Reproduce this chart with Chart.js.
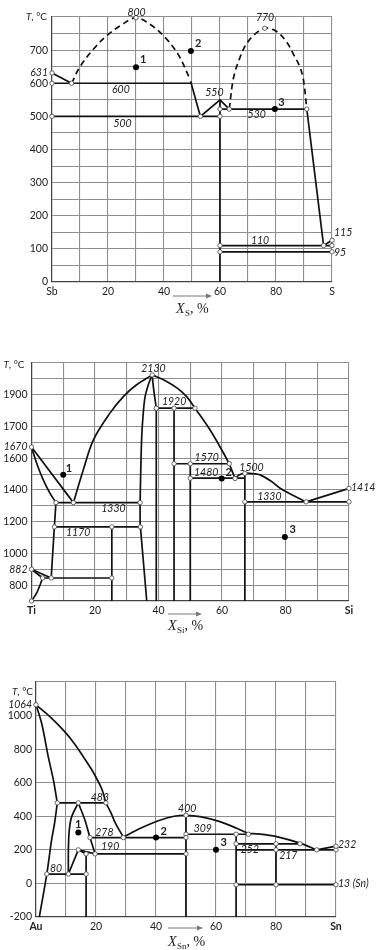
<!DOCTYPE html>
<html><head><meta charset="utf-8">
<script src="https://cdn.jsdelivr.net/npm/chart.js@4.4.0/dist/chart.umd.min.js"></script>
<style>
html,body{margin:0;padding:0;background:#fff;}
body{width:378px;height:950px;position:relative;overflow:hidden;}
canvas{position:absolute;left:0;}
</style></head><body>
<canvas id="c1" width="378" height="318" style="top:0px"></canvas>
<canvas id="c2" width="378" height="318" style="top:318px"></canvas>
<canvas id="c3" width="378" height="314" style="top:636px"></canvas>
<script>
// ---------------- Chart 1 : Sb – S ----------------
const sbsXTickVals = [0,20,40,60,80,100];
const sbsXTickText = ['Sb','20','40','60','80','S'];
const sbsYTickVals = [0,100,200,300,400,500,600,631,700];
const sbsYTickText = ['0','100','200','300','400','500','600','631','700'];
const sbsYItalic = [631];
const sbsLiqSb   = [[0,631],[7,600]];
const sbsEut600  = [[0,600],[49.5,600]];
const sbsEut500  = [[0,500],[60,500]];
const sbsLiqMid  = [[49.5,606],[53,500],[60,550],[63.3,522]];
const sbsComp60  = [[60,550],[60,0]];
const sbsMono522 = [[60,522],[91,522]];
const sbsLiqS    = [[91,522],[97,110],[100,126]];
const sbsLine110 = [[60,110],[100,110]];
const sbsLine95  = [[60,91],[100,91]];
const sbsDome1   = [[7,600],[10,650],[15,705],[20,747],[25,777],[30,798],[35,778],[40,742],[45,688],[49.3,612]];
const sbsDome2   = [[63.3,522],[64.8,615],[67,675],[69.5,720],[73,752],[76,766],[79,762],[81.4,748],[84,722],[86.2,688],[88.5,650],[89.8,610],[91,522]];
const sbsOpen    = [[0,631],[0,600],[0,500],[7,600],[30,798],[53,500],[60,522],[60,500],[63.3,522],[76,766],[91,522],[60,110],[60,91],[97,110],[100,126],[100,110],[100,91]];
const sbsPoints  = [[30,648],[49.6,697],[79.6,522]];
const sbsPointText = ['1','2','3'];
const sbsPointTextPos = [[32.6,672],[52.2,721],[81.9,541]];
const sbsLabels  = [['800',30.2,814],['600',24.6,580],['500',25.2,479],['550',58,572],['530',73.1,504],['770',76.1,797],['110',74.3,125]];
const sbsSideLabels = [['115',100,148],['95',100,88]];

// ---------------- Chart 2 : Ti – Si ----------------
const tisXTickVals = [0,20,40,60,80,100];
const tisXTickText = ['Ti','20','40','60','80','Si'];
const tisYTickVals = [800,900,1000,1200,1400,1600,1670,1800,2000];
const tisYTickText = ['800','882','1000','1200','1400','1600','1670','1700','1900'];
const tisYItalic = [900,1670];
const tisLiqTi   = [[0,1670],[13.2,1320]];
const tisSolTi   = [[0,1670],[1.6,1570],[3.7,1463],[5.8,1380],[7.7,1320]];
const tisLiqA    = [[13.2,1320],[16.3,1526],[19.5,1716],[24.7,1884],[29,1990],[33.1,2063],[38,2125]];
const tisLiqB    = [[38,2125],[42,2090],[46,2040],[49,1985],[51.5,1915],[56.2,1779],[59.9,1653],[62.3,1562],[64.1,1472]];
const tisLiqC    = [[64.1,1472],[65.5,1495],[67.2,1505],[70,1502],[72,1495],[75.5,1455],[78.3,1411],[82,1370],[86.5,1325]];
const tisLiqSi   = [[86.5,1325],[100,1410]];
const tisEut1330 = [[7.7,1320],[34.2,1320]];
const tisLine1170 = [[7.2,1167],[34.3,1167]];
const tisBetaSolv = [[7.7,1320],[7.2,1167],[6.2,845]];
const tisEutectoid = [[3.5,845],[25.3,845]];
const tisWedgeA  = [[0,900],[6.2,845]];
const tisWedgeB  = [[0,900],[3.5,845]];
const tisAlphaSolv = [[3.5,845],[2.9,812],[1.6,749],[0,700]];
const tisTi3Si   = [[25.3,1167],[25.3,700]];
const tisTi5Si3Low = [[36.3,700],[34.3,1167],[34.2,1320]];
const tisTi5Si3Up  = [[34.2,1320],[34.5,1600],[34.7,1726],[35,1831],[35.7,1979],[36.8,2063],[38,2125]];
const tisTi5Si3R   = [[38,2125],[38.5,2030],[39.3,1915]];
const tisTi5Si3V   = [[39.3,1915],[39.3,700]];
const tisLine1920 = [[39.3,1915],[51.5,1915]];
const tisTi5Si4  = [[44.9,1915],[44.9,700]];
const tisLine1570 = [[44.9,1565],[62.3,1565]];
const tisTiSi    = [[50,1565],[50,700]];
const tisLine1480 = [[50,1474],[67.2,1474]];
const tisTiSi2   = [[67.2,1505],[67.2,700]];
const tisEut1330R = [[67.2,1325],[100,1325]];
const tisOpen    = [[0,1670],[7.7,1320],[13.2,1320],[34.2,1320],[7.2,1167],[25.3,1167],[34.3,1167],[0,900],[3.5,845],[6.2,845],[25.3,845],[0,700],[38,2125],[39.3,1915],[44.9,1915],[51.5,1915],[44.9,1565],[50,1565],[62.3,1565],[50,1474],[64.1,1472],[67.2,1505],[67.2,1325],[86.5,1325],[100,1325],[100,1410]];
const tisPoints  = [[10,1495],[59.9,1472],[79.8,1104]];
const tisPointText = ['1','2','3'];
const tisPointTextPos = [[11.8,1535],[62.1,1510],[82.3,1152]];
const tisLabels  = [['2130',38.4,2162],['1920',44.9,1957],['1330',25.8,1280],['1170',14.7,1133],['1570',55.2,1604],['1480',55,1510],['1500',69.3,1541],['1330',74.9,1358]];
const tisSideLabels = [['1414',100,1417]];

// ---------------- Chart 3 : Au – Sn ----------------
const ausXTickVals = [0,20,40,60,80,100];
const ausXTickText = ['Au','20','40','60','80','Sn'];
const ausYTickVals = [-200,0,200,400,600,800,1000,1064];
const ausYTickText = ['-200','0','200','400','600','800','1000','1064'];
const ausYItalic = [1064];
const ausLiqA    = [[0,1064],[4.7,992],[9.1,913],[12.5,840],[15.8,754],[18.5,680],[20.2,625],[22,560],[23.3,480]];
const ausLiqB    = [[23.3,480],[25,420],[26.5,358],[29.1,276]];
const ausLiqC    = [[29.1,276],[35,330],[41,375],[46,400],[50,406],[54.7,398],[61.3,368],[66.9,329],[70.8,297]];
const ausLiqD    = [[70.8,297],[74.7,294],[80.2,279],[88,240],[93.6,200]];
const ausLiqSn   = [[93.6,200],[100,222]];
const ausSolvA1  = [[0,1064],[1.9,953],[4.1,754],[5.8,616],[7.1,480]];
const ausSolvA2  = [[7.1,480],[6.2,360],[5.2,260],[3.6,56],[1.1,-200]];
const ausLine483 = [[7.1,480],[23.3,480]];
const ausZetaL   = [[14.1,480],[11.9,398],[11.1,319],[10.8,200],[10.8,56]];
const ausZetaR   = [[14.1,480],[16.3,378],[18,273],[19.7,176]];
const ausZetaLowA = [[10.8,56],[14.1,200],[19.7,176]];
const ausZetaLowB = [[14.1,200],[16.7,176]];
const ausLine278 = [[18,273],[50,273]];
const ausLine190 = [[19.7,176],[50,176]];
const ausLine80  = [[3.6,56],[16.7,56]];
const ausVert167 = [[16.7,176],[16.7,-200]];
const ausVert50  = [[50,406],[50,-200]];
const ausLine309 = [[50,293],[70.8,293]];
const ausVert667 = [[66.7,293],[66.7,-200]];
const ausLine252 = [[66.7,236],[88,236]];
const ausVert80  = [[80,236],[80,-8]];
const ausLine217 = [[66.7,200],[100,200]];
const ausLine13  = [[66.7,-8],[100,-8]];
const ausOpen    = [[0,1064],[7.1,480],[14.1,480],[23.3,480],[18,273],[29.1,273],[50,406],[50,293],[50,273],[50,176],[19.7,176],[14.1,200],[16.7,176],[16.7,56],[10.8,56],[3.6,56],[66.7,293],[70.8,293],[66.7,236],[80,236],[88,236],[80,200],[93.6,200],[100,200],[100,222],[66.7,-8],[80,-8],[100,-8]];
const ausPoints  = [[14.1,303],[40,273],[60,200]];
const ausPointText = ['1','2','3'];
const ausPointTextPos = [[14.1,350],[42.6,310],[62.6,243]];
const ausLabels  = [['483',21.3,511],['278',22.8,305],['190',24.7,222],['80',6.7,86],['400',50.4,444],['309',55.6,326],['252',71.3,200],['217',84.1,164]];
const ausSideLabels = [['232',100,230],['13 (Sn)',100,-2]];

// ---------------- helpers ----------------
const FONT = 'Lato';
function gridVals(min,max,step){const a=[];for(let v=min;v<=max+1e-9;v+=step)a.push(Math.round(v*1000)/1000);return a;}
function axis(o){
  const grid = gridVals(o.min,o.max,o.step);
  const all = Array.from(new Set([...grid, ...o.vals])).sort((a,b)=>a-b);
  return {
    type:'linear', min:o.min, max:o.max,
    afterBuildTicks: s => { s.ticks = all.map(v=>({value:v})); },
    afterFit: s => { if(o.isY) s.width = o.size; else s.height = o.size; },
    grid:{ color: c => (c.tick && grid.includes(c.tick.value)) ? '#8e8e8e' : 'rgba(0,0,0,0)', lineWidth:1.1, drawTicks:false },
    border:{ color:'#444', width:1.2 },
    ticks:{
      autoSkip:false, maxRotation:0, minRotation:0, padding: o.isY?4:3, color:'#222',
      callback: v => { const i = o.vals.indexOf(v); return i>=0 ? o.text[i] : ''; },
      font: c => ({family:FONT, size:10.5,
        style: (c.tick && (o.italic||[]).includes(c.tick.value)) ? 'italic' : 'normal',
        weight: (c.tick && (o.bold||[]).includes(c.tick.value)) ? 'bold' : 'normal'})
    }
  };
}
const P = pts => pts.map(p=>({x:p[0],y:p[1]}));
const L = (pts,curve,dash) => ({data:P(pts), showLine:true, fill:false, borderColor:'#111', borderWidth:1.7,
  pointRadius:0, tension: curve?0.35:0, borderDash: dash?[6,4]:[], clip:false, order:2});
const OPEN = pts => ({data:P(pts), showLine:false, pointRadius:2.2, pointBackgroundColor:'#fff',
  pointBorderColor:'#555', pointBorderWidth:0.9, clip:false, order:0});
const DOT = pts => ({data:P(pts), showLine:false, pointRadius:3, pointBackgroundColor:'#000',
  pointBorderColor:'#000', pointBorderWidth:0, clip:false, order:0});

function diagPlugin(cfg){
  return {
    id:'diag',
    afterDatasetsDraw(chart){
      const ctx = chart.ctx, a = chart.chartArea, x = chart.scales.x, y = chart.scales.y;
      ctx.save();
      ctx.fillStyle = '#222';
      ctx.textBaseline = 'middle';
      ctx.font = 'italic 10.5px ' + FONT;
      ctx.textAlign = 'center';
      cfg.labels.forEach(l => ctx.fillText(l[0], x.getPixelForValue(l[1]), y.getPixelForValue(l[2])));
      ctx.textAlign = 'left';
      cfg.side.forEach(l => ctx.fillText(l[0], x.getPixelForValue(l[1]) + 2, y.getPixelForValue(l[2])));
      ctx.font = 'bold 11px ' + FONT;
      ctx.textAlign = 'center';
      cfg.ptText.forEach((t,i) => ctx.fillText(t, x.getPixelForValue(cfg.ptPos[i][0]), y.getPixelForValue(cfg.ptPos[i][1])));
      // T, °C
      const ty = y.getPixelForValue(cfg.tY);
      const tr = a.left - cfg.tGap;
      ctx.font = '10px ' + FONT;
      const w2 = ctx.measureText(', °C').width;
      ctx.textAlign = 'right';
      ctx.fillText(', °C', tr, ty);
      ctx.font = 'italic 10px ' + FONT;
      ctx.fillText('T', tr - w2, ty);
      // axis title with arrow
      const x0 = cfg.arrow[0], x1 = cfg.arrow[1];
      const ay = a.bottom + cfg.arrowDy;
      ctx.strokeStyle = '#777'; ctx.fillStyle = '#777'; ctx.lineWidth = 1;
      ctx.beginPath(); ctx.moveTo(x0, ay); ctx.lineTo(x1 - 2, ay); ctx.stroke();
      ctx.beginPath(); ctx.moveTo(x1, ay); ctx.lineTo(x1 - 6, ay - 2.5); ctx.lineTo(x1 - 6, ay + 2.5); ctx.closePath(); ctx.fill();
      ctx.fillStyle = '#222';
      ctx.textAlign = 'left'; ctx.textBaseline = 'alphabetic';
      let tx = x0 + cfg.titleDx;
      const by = a.bottom + cfg.titleDy;
      ctx.font = 'italic 14px "Liberation Serif"';
      ctx.fillText('X', tx, by); tx += ctx.measureText('X').width + 0.5;
      ctx.font = '9px "Liberation Serif"';
      ctx.fillText(cfg.sub, tx, by + 3); tx += ctx.measureText(cfg.sub).width;
      ctx.font = '14px "Liberation Serif"';
      ctx.fillText(', %', tx, by);
      ctx.restore();
    }
  };
}
function makeChart(id, cfg){
  return new Chart(document.getElementById(id), {
    type:'scatter',
    data:{datasets: cfg.datasets},
    options:{
      responsive:false, animation:false, events:[],
      layout:{padding:{top:cfg.pad[0], right:cfg.pad[1], bottom:cfg.pad[2], left:0}},
      plugins:{legend:{display:false}, tooltip:{enabled:false}},
      scales:{ x: axis(cfg.xAxis), y: axis(cfg.yAxis) }
    },
    plugins:[diagPlugin(cfg)]
  });
}

// ---------------- Chart 1 ----------------
makeChart('c1', {
  pad:[17,46,16],
  xAxis:{min:0,max:100,step:10,vals:sbsXTickVals,text:sbsXTickText,isY:false,size:20},
  yAxis:{min:0,max:800,step:50,vals:sbsYTickVals,text:sbsYTickText,italic:sbsYItalic,isY:true,size:52},
  datasets:[
    DOT(sbsPoints), OPEN(sbsOpen),
    L(sbsLiqSb), L(sbsEut600), L(sbsEut500), L(sbsLiqMid), L(sbsComp60), L(sbsMono522),
    L(sbsLiqS), L(sbsLine110), L(sbsLine95),
    L(sbsDome1,true,true), L(sbsDome2,true,true)
  ],
  labels:sbsLabels, side:sbsSideLabels, ptText:sbsPointText, ptPos:sbsPointTextPos,
  tY:800, tGap:5, arrow:[173,212], arrowDy:14, titleDx:3, titleDy:31, sub:'S'
});

// ---------------- Chart 2 ----------------
makeChart('c2', {
  pad:[45,29,15],
  xAxis:{min:0,max:100,step:10,vals:tisXTickVals,text:tisXTickText,bold:[0,100],isY:false,size:20},
  yAxis:{min:700,max:2200,step:100,vals:tisYTickVals,text:tisYTickText,italic:tisYItalic,isY:true,size:31.5},
  datasets:[
    DOT(tisPoints), OPEN(tisOpen),
    L(tisLiqTi), L(tisSolTi,true), L(tisLiqA,true), L(tisLiqB,true), L(tisLiqC,true), L(tisLiqSi),
    L(tisEut1330), L(tisLine1170), L(tisBetaSolv), L(tisEutectoid), L(tisWedgeA), L(tisWedgeB),
    L(tisAlphaSolv,true), L(tisTi3Si), L(tisTi5Si3Low), L(tisTi5Si3Up,true), L(tisTi5Si3R,true), L(tisTi5Si3V),
    L(tisLine1920), L(tisTi5Si4), L(tisLine1570), L(tisTiSi), L(tisLine1480), L(tisTiSi2), L(tisEut1330R)
  ],
  labels:tisLabels, side:tisSideLabels, ptText:tisPointText, ptPos:tisPointTextPos,
  tY:2190, tGap:7, arrow:[168,202], arrowDy:13, titleDx:0, titleDy:29, sub:'Si'
});

// ---------------- Chart 3 ----------------
makeChart('c3', {
  pad:[46,42,13],
  xAxis:{min:0,max:100,step:10,vals:ausXTickVals,text:ausXTickText,bold:[0,100],isY:false,size:20},
  yAxis:{min:-200,max:1200,step:200,vals:ausYTickVals,text:ausYTickText,italic:ausYItalic,isY:true,size:36},
  datasets:[
    DOT(ausPoints), OPEN(ausOpen),
    L(ausLiqA,true), L(ausLiqB,true), L(ausLiqC,true), L(ausLiqD,true), L(ausLiqSn),
    L(ausSolvA1,true), L(ausSolvA2,true), L(ausLine483), L(ausZetaL,true), L(ausZetaR,true),
    L(ausZetaLowA), L(ausZetaLowB), L(ausLine278), L(ausLine190), L(ausLine80),
    L(ausVert167), L(ausVert50), L(ausLine309), L(ausVert667), L(ausLine252), L(ausVert80),
    L(ausLine217), L(ausLine13)
  ],
  labels:ausLabels, side:ausSideLabels, ptText:ausPointText, ptPos:ausPointTextPos,
  tY:1140, tGap:3, arrow:[168,203], arrowDy:11, titleDx:0, titleDy:29, sub:'Sn'
});
</script></body></html>
